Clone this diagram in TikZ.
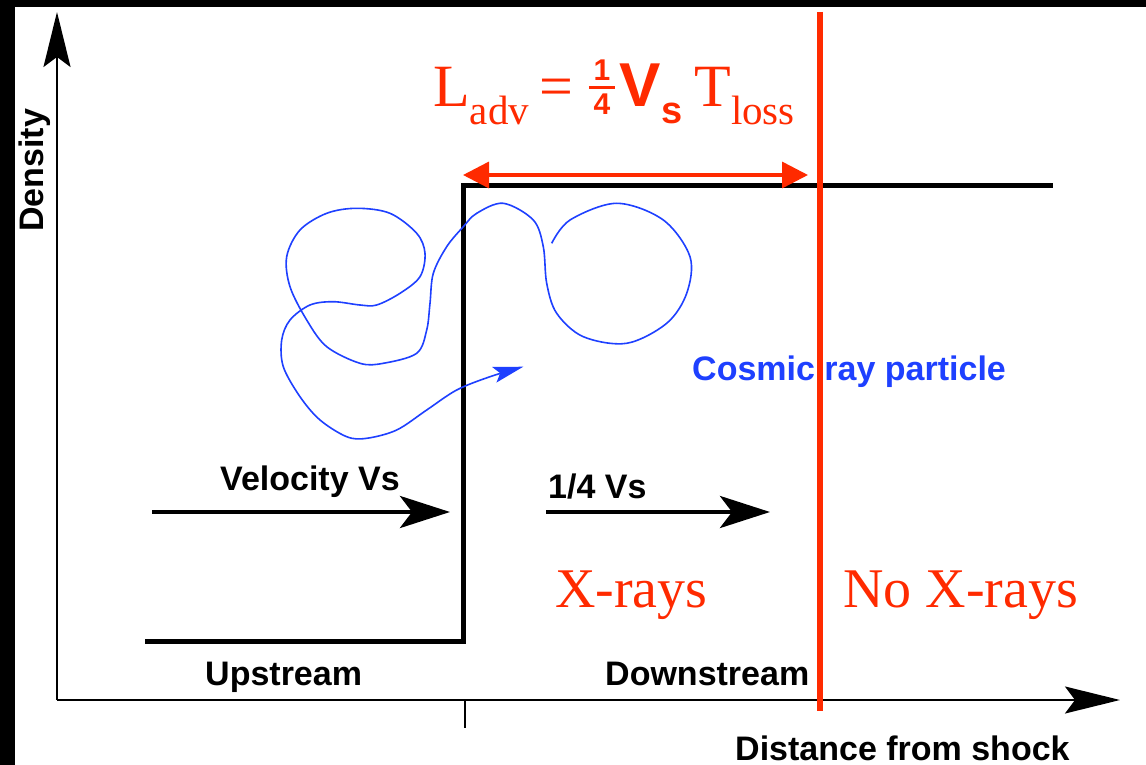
\documentclass[tikz,border=0pt]{standalone}
\usepackage{fontspec}
\setmainfont{Liberation Serif}
\setsansfont{Liberation Sans}
\usetikzlibrary{arrows.meta}
\definecolor{redline}{HTML}{FF2A00}
\definecolor{cblue}{HTML}{1E40FF}
\newcommand\quarterfrac{\raisebox{-8pt}{\vbox{\hbox to 26pt{\hss\sffamily\bfseries\fontsize{30}{30}\selectfont 1\hss}\kern5pt\hrule height 3.5pt\kern5pt\hbox to 26pt{\hss\sffamily\bfseries\fontsize{30}{30}\selectfont 4\hss}}}}
\begin{document}
\begin{tikzpicture}[x=1pt,y=-1pt,
  lbl/.style={font=\sffamily\bfseries\fontsize{34}{34}\selectfont, inner sep=0pt, anchor=base west},
  redtxt/.style={font=\fontsize{56}{56}\selectfont, text=redline, inner sep=0pt, anchor=base west},
  axisline/.style={line width=2pt, -{Stealth[length=55pt,width=27pt,inset=10pt]}},
  profile/.style={line width=5pt, line join=miter},
  vel/.style={line width=4.5pt, -{Stealth[length=50pt,width=32pt,inset=12pt]}},
  redbar/.style={draw=redline, line width=6pt},
  dimarrow/.style={draw=redline, line width=3.5pt, {Triangle[length=26pt,width=26pt]}-{Triangle[length=26pt,width=26pt]}},
  path/.style={draw=cblue, line width=1.6pt, -{Stealth[length=30pt,width=16pt,inset=6pt]}}
]
\useasboundingbox (0,0) rectangle (1146,765);
\fill[black] (0,0) rectangle (1146,765);
\fill[white] (15,7) rectangle (1146,765);

% axes
\coordinate (O) at (57,700);
\coordinate (ytop) at (57,12);
\coordinate (xend) at (1120,700);
\coordinate (tickt) at (465,700);
\coordinate (tickb) at (465,728);
\draw[axisline] (O) -- (ytop);
\draw[axisline] (O) -- (xend);
\draw[line width=2pt] (tickt) -- (tickb);

% density profile
\coordinate (p1) at (145,641);
\coordinate (p2) at (463,641);
\coordinate (p3) at (463,185);
\coordinate (p4) at (1053,185);
\draw[profile] (p1) -- (p2) -- (p3) -- (p4);

% blue particle path
\draw[path] plot[smooth, tension=0.55] coordinates {
(551.7,243.3) (570,220) (616.7,203.3) (663.3,220) (690,256.7) (686.7,293.3)
(666.7,323.3) (626.7,343.3) (583.3,336.7) (556.7,313.3) (546.7,283.3) (543.3,246.7)
(533.3,220) (503.3,203.3) (476.7,213.3) (463.3,226.7) (446.7,246.7) (433.3,273.3)
(430,303.3) (426.7,330) (416.7,353.3) (383.3,363.3) (360,363.3) (326.7,346.7)
(306.7,320) (290,286.7) (286.7,256.7) (300,230) (326.7,213.3) (356.7,208.3)
(390,213.3) (416.7,233.3) (425,253.3) (420,276.7) (400,293.3) (376.7,305)
(360,305) (333.3,301.7) (310,305) (290,320) (281.7,340) (283.3,366.7)
(300,396.7) (320,420) (346.7,436.7) (366.7,438.3) (396.7,430) (426.7,410)
(456.7,390) (490,376.7) (523.3,366.7)};

\node[lbl, text=cblue] (cr) at (692,380) {Cosmic ray particle};

% velocity arrows
\coordinate (v1a) at (152,512);
\coordinate (v1b) at (450,512);
\coordinate (v2a) at (546,512);
\coordinate (v2b) at (770,512);
\draw[vel] (v1a) -- (v1b);
\draw[vel] (v2a) -- (v2b);
\node[lbl] (vel) at (220,490) {Velocity Vs};
\node[lbl] (qv) at (548,498) {1/4 Vs};

\node[lbl] (up) at (205,685) {Upstream};
\node[lbl] (down) at (605,685) {Downstream};
\node[lbl] (dist) at (735,760) {Distance from shock};
\node[lbl, rotate=90] (dens) at (43,232) {Density};

% red items
\coordinate (rt) at (820,12);
\coordinate (rb) at (820,711);
\draw[redbar] (rt) -- (rb);
\coordinate (dl) at (463,175);
\coordinate (dr) at (808,175);
\draw[dimarrow] (dl) -- (dr);
\node[anchor=base west, inner sep=0pt, text=redline] (formula) at (433,107)
 {\fontsize{60}{60}\selectfont L\raisebox{-18pt}{\fontsize{41}{41}\selectfont adv}\hspace{10pt}=\hspace{16pt}\quarterfrac\hspace{5pt}{\sffamily\bfseries\fontsize{62}{62}\selectfont V\raisebox{-17pt}{\fontsize{38}{38}\selectfont s}}\hspace{12pt}T\raisebox{-18pt}{\fontsize{41}{41}\selectfont loss}};
\node[redtxt] (xr) at (555,607) {X-rays};
\node[redtxt] (nxr) at (843,607) {No X-rays};
\end{tikzpicture}
\end{document}
